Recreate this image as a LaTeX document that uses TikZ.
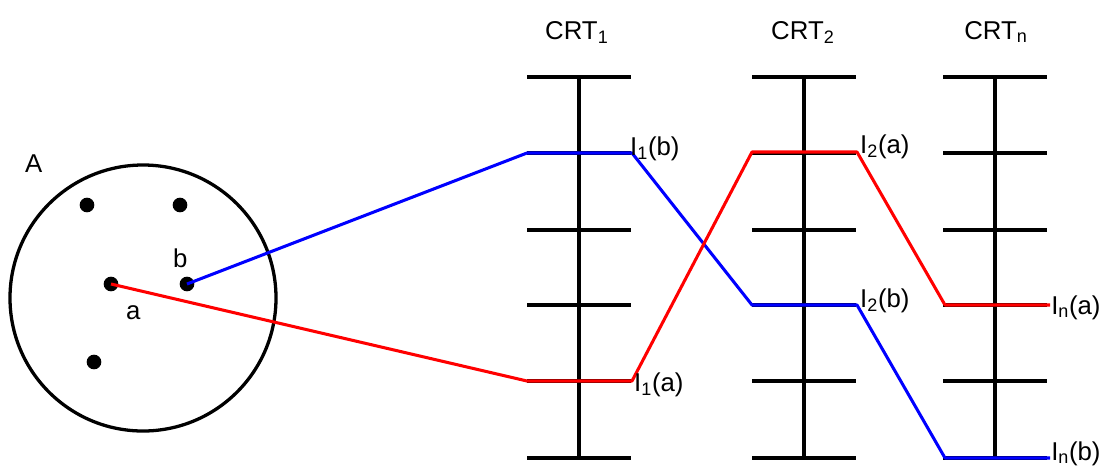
\documentclass[tikz,border=0pt]{standalone}
\usepackage{fontspec}
\setmainfont{Liberation Sans}
\usetikzlibrary{positioning}

\tikzset{
  axis/.style={line width=3pt},
  dot/.style={circle, fill=black, inner sep=0pt, minimum size=0.44cm},
  lbl/.style={anchor=base west, inner sep=0pt, font=\fontsize{22}{26}\selectfont},
  pathb/.style={blue, line width=2.6pt, line join=round},
  patha/.style={red, line width=2.6pt, line join=round},
}

\begin{document}
\begin{tikzpicture}[x=0.03cm, y=-0.03cm]
  \useasboundingbox (0,0) rectangle (1103,466);
  % set A with its elements
  \draw[line width=2.8pt] (143,298) circle[radius=3.99cm];
  \node[lbl] (setA) at (25,172) {A};
  \node[dot] (d1) at (87,205) {};
  \node[dot] (d2) at (180,205) {};
  \node[dot] (a) at (111,284) {};
  \node[dot] (b) at (187,284) {};
  \node[dot] (d5) at (94,362) {};
  \node[lbl] (lb) at (173,267) {b};
  \node[lbl] (la) at (126,319) {a};
  % the CRT axes
  \foreach \cx/\lx/\sub in {579/545/1, 804/771/2, 995/964/n} {
    \node[lbl] at (\lx,39) {CRT\textsubscript{\sub}};
    \draw[axis] (\cx,77) -- (\cx,460);
    \foreach \ty in {77,153,230,305,381,458}
      \draw[axis] (\cx-52,\ty) -- (\cx+52,\ty);
  }
  % positions of a and b on each axis
  \coordinate (b1l) at (527,153);
  \coordinate (b1r) at (632,153);
  \coordinate (a1l) at (527,381);
  \coordinate (a1r) at (632,381);
  \coordinate (a2l) at (752,152);
  \coordinate (a2r) at (857,152);
  \coordinate (b2l) at (752,305);
  \coordinate (b2r) at (857,305);
  \coordinate (anl) at (945,305);
  \coordinate (anr) at (1050,305);
  \coordinate (bnl) at (945,458);
  \coordinate (bnr) at (1050,458);
  % mappings
  \draw[pathb] (b.center) -- (b1l) -- (b1r) -- (b2l) -- (b2r) -- (bnl) -- (bnr);
  \draw[patha] (a.center) -- (a1l) -- (a1r) -- (a2l) -- (a2r) -- (anl) -- (anr);
  % labels
  \node[lbl] (l1b) at (630,155) {I\textsubscript{1}(b)};
  \node[lbl] (l1a) at (634,391) {I\textsubscript{1}(a)};
  \node[lbl] (l2a) at (860,153) {I\textsubscript{2}(a)};
  \node[lbl] (l2b) at (860,307) {I\textsubscript{2}(b)};
  \node[lbl] (lna) at (1051,314) {I\textsubscript{n}(a)};
  \node[lbl] (lnb) at (1051,460) {I\textsubscript{n}(b)};
\end{tikzpicture}
\end{document}
